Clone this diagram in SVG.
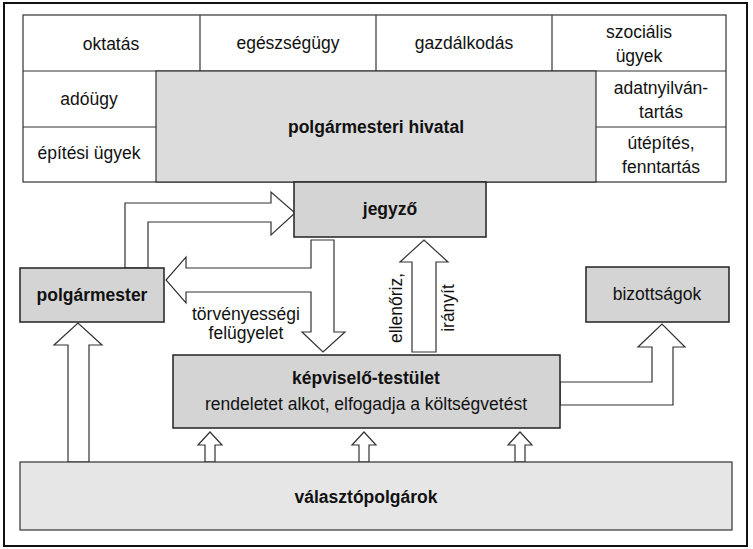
<svg xmlns="http://www.w3.org/2000/svg" width="753" height="549" viewBox="0 0 753 549">
<style>
text{font-family:"Liberation Sans",Arial,sans-serif;font-size:17.5px;fill:#111;text-anchor:middle;dominant-baseline:central}
.b{font-weight:bold}
.cell{fill:#fff;stroke:#333;stroke-width:1.2}
.box{fill:#d4d4d4;stroke:#222;stroke-width:1.5}
.arr{fill:#fff;stroke:#333;stroke-width:1.2}
</style>
<rect x="0" y="0" width="753" height="549" fill="#fff"/>
<rect x="4" y="3" width="743" height="543" fill="none" stroke="#111" stroke-width="2"/>
<g id="hivatal">
<rect class="cell" x="23" y="15" width="703" height="167"/>
<line class="cell" x1="23" y1="71" x2="726" y2="71"/>
<line class="cell" x1="200" y1="15" x2="200" y2="71"/>
<line class="cell" x1="376" y1="15" x2="376" y2="71"/>
<line class="cell" x1="552" y1="15" x2="552" y2="71"/>
<line class="cell" x1="23" y1="127" x2="156" y2="127"/>
<line class="cell" x1="596" y1="127" x2="726" y2="127"/>
<rect x="156" y="71" width="440" height="111" fill="#dcdcdc" stroke="#333" stroke-width="1.2"/>
<text x="111" y="44">oktatás</text>
<text x="288" y="43">egészségügy</text>
<text x="464" y="43">gazdálkodás</text>
<text x="639" y="32">szociális</text>
<text x="639" y="56">ügyek</text>
<text x="89" y="99">adóügy</text>
<text x="89" y="153">építési ügyek</text>
<text x="661" y="88">adatnyilván-</text>
<text x="661" y="112">tartás</text>
<text x="661" y="143">útépítés,</text>
<text x="661" y="167">fenntartás</text>
<text class="b" x="376" y="127">polgármesteri hivatal</text>
</g>
<g id="connectors">
<path class="arr" d="M125,268 L125,203 L271,203 L271,192 L295,213 L271,235 L271,222 L148,222 L148,268 Z"/>
<path class="arr" d="M311,240 L334,240 L334,332 L345,332 L323,352 L302,332 L311,332 L311,292 L186,292 L186,303 L166,280 L186,257 L186,268 L311,268 Z"/>
<path class="arr" d="M412,352 L412,262 L400,262 L424,240 L448,262 L436,262 L436,352 Z"/>
<path class="arr" d="M68,462 L68,345 L54,345 L78,323 L102,345 L89,345 L89,462 Z"/>
<path class="arr" d="M560,382 L652,382 L652,347 L638,347 L662,324 L685,347 L673,347 L673,405 L560,405 Z"/>
<path class="arr" d="M205,462 L205,445 L198,445 L210,432 L222,445 L215,445 L215,462 Z"/>
<path class="arr" d="M359,462 L359,445 L352,445 L364,432 L376,445 L369,445 L369,462 Z"/>
<path class="arr" d="M515,462 L515,445 L508,445 L520,432 L532,445 L525,445 L525,462 Z"/>
<text x="246" y="314">törvényességi</text>
<text x="246" y="333">felügyelet</text>
<text transform="translate(396,308) rotate(-90)">ellenőriz,</text>
<text transform="translate(448,308) rotate(-90)">irányít</text>
</g>
<g id="jegyzo"><rect class="box" x="294" y="182" width="192" height="55"/><text class="b" x="390" y="209">jegyző</text></g>
<g id="polgarmester"><rect class="box" x="20" y="268" width="144" height="54"/><text class="b" x="92" y="295">polgármester</text></g>
<g id="bizottsagok"><rect class="box" x="586" y="267" width="143" height="55"/><text x="657" y="294">bizottságok</text></g>
<g id="kepviselo"><rect class="box" x="173" y="355" width="387" height="73"/><text class="b" x="366" y="378">képviselő-testület</text><text x="366" y="404">rendeletet alkot, elfogadja a költségvetést</text></g>
<g id="valasztok"><rect x="20" y="462" width="712" height="68" fill="#e6e6e6" stroke="#333" stroke-width="1.2"/><text class="b" x="366" y="497">választópolgárok</text></g>
</svg>
